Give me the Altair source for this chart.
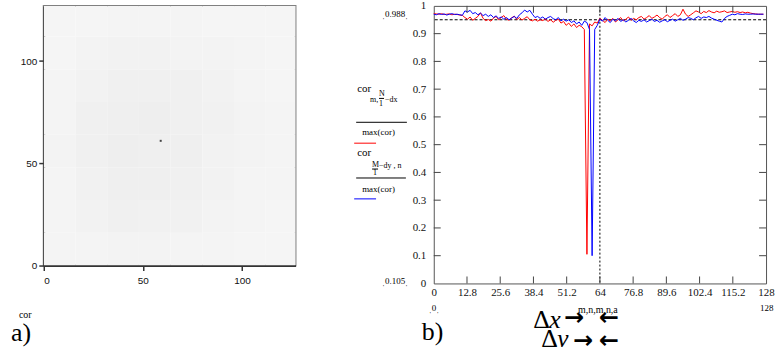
import altair as alt
import pandas as pd

SERIF = "Liberation Serif"
SANS = "Liberation Sans"

# ---------------- data ----------------
# normalised correlation profiles through the peak
shift = list(range(128))
cor_row = [
    0.972, 0.971, 0.970, 0.972, 0.969, 0.970, 0.971, 0.968, 0.970, 0.969,
    0.967, 0.966, 0.958, 0.952, 0.960, 0.948, 0.955, 0.962, 0.975, 0.955,
    0.947, 0.951, 0.945, 0.956, 0.962, 0.950, 0.958, 0.965, 0.952, 0.948,
    0.957, 0.963, 0.951, 0.958, 0.949, 0.955, 0.961, 0.950, 0.946, 0.952,
    0.945, 0.950, 0.947, 0.953, 0.944, 0.950, 0.941, 0.948, 0.952, 0.938,
    0.944, 0.930, 0.938, 0.926, 0.935, 0.922, 0.930, 0.925, 0.915, 0.105,
    0.935, 0.928, 0.942, 0.938, 0.955, 0.948, 0.940, 0.952, 0.946, 0.955,
    0.942, 0.950, 0.958, 0.946, 0.952, 0.960, 0.948, 0.955, 0.950, 0.958,
    0.962, 0.952, 0.958, 0.965, 0.955, 0.960, 0.967, 0.958, 0.952, 0.962,
    0.968, 0.958, 0.965, 0.972, 0.962, 0.968, 0.988, 0.970, 0.962, 0.968,
    0.975, 0.982, 0.978, 0.972, 0.980, 0.976, 0.983, 0.978, 0.975, 0.981,
    0.977, 0.979, 0.982, 0.976, 0.978, 0.980, 0.977, 0.979, 0.976, 0.978,
    0.975, 0.977, 0.974, 0.972, 0.971, 0.970, 0.970, 0.970,
]
cor_col = [
    0.970, 0.968, 0.972, 0.969, 0.971, 0.967, 0.970, 0.972, 0.969, 0.970,
    0.968, 0.966, 0.982, 0.978, 0.984, 0.972, 0.976, 0.968, 0.974, 0.965,
    0.970, 0.962, 0.968, 0.958, 0.964, 0.955, 0.960, 0.952, 0.958, 0.950,
    0.956, 0.962, 0.955, 0.968, 0.975, 0.985, 0.978, 0.984, 0.970, 0.958,
    0.962, 0.955, 0.960, 0.952, 0.958, 0.962, 0.954, 0.950, 0.958, 0.946,
    0.952, 0.945, 0.950, 0.940, 0.946, 0.935, 0.942, 0.930, 0.945, 0.940,
    0.915, 0.100, 0.915, 0.930, 0.952, 0.945, 0.958, 0.948, 0.940, 0.952,
    0.946, 0.955, 0.944, 0.950, 0.942, 0.948, 0.955, 0.946, 0.940, 0.948,
    0.944, 0.950, 0.942, 0.947, 0.952, 0.944, 0.948, 0.941, 0.946, 0.950,
    0.943, 0.948, 0.952, 0.945, 0.950, 0.955, 0.948, 0.952, 0.958, 0.955,
    0.950, 0.957, 0.962, 0.955, 0.960, 0.958, 0.962, 0.956, 0.952, 0.948,
    0.945, 0.942, 0.955, 0.962, 0.966, 0.970, 0.968, 0.972, 0.970, 0.969,
    0.971, 0.970, 0.970, 0.971, 0.970, 0.970, 0.970, 0.970,
]
threshold = 0.95
centre = 64

x_ticks = [0, 12.8, 25.6, 38.4, 51.2, 64, 76.8, 89.6, 102.4, 115.2, 128]
y_ticks = [0, 0.1, 0.2, 0.3, 0.4, 0.5, 0.6, 0.7, 0.8, 0.9, 1]
img_ticks = [0, 50, 100]

# coarse intensity of the correlation surface (8 x 8 blocks, bottom row first)
block = 16
cor_blocks = [
    [0.1, 0.1, 0.2, 0.2, 0.1, 0.1, 0.0, 0.0],
    [0.1, 0.3, 0.5, 0.4, 0.4, 0.2, 0.1, 0.0],
    [0.1, 0.4, 0.6, 0.6, 0.5, 0.3, 0.1, 0.1],
    [0.2, 0.5, 0.7, 0.6, 0.6, 0.3, 0.2, 0.1],
    [0.1, 0.5, 0.6, 0.7, 0.5, 0.4, 0.2, 0.1],
    [0.1, 0.3, 0.5, 0.5, 0.5, 0.3, 0.1, 0.0],
    [0.0, 0.2, 0.3, 0.3, 0.2, 0.2, 0.1, 0.0],
    [0.0, 0.0, 0.1, 0.1, 0.1, 0.0, 0.0, 0.0],
]
peak_x = [59]
peak_y = [61]

# ---------------- sizes ----------------
W_L, H_L = 253, 261
W_R, H_R = 334, 279


def note(txt, x, y, size=9, font=SERIF, align="left", **kw):
    return alt.Chart(pd.DataFrame({"t": [txt]})).mark_text(
        align=align, baseline="alphabetic", fontSize=size, font=font, **kw
    ).encode(x=alt.value(x), y=alt.value(y), text="t:N")


def bar(x1, x2, y, color="black", width=1):
    return alt.Chart(pd.DataFrame({"a": [0]})).mark_rule(
        color=color, strokeWidth=width
    ).encode(x=alt.value(x1), x2=alt.value(x2), y=alt.value(y))


# ---------------- left panel: surface of cor ----------------
cells = []
for r, row in enumerate(cor_blocks):
    for c, v in enumerate(row):
        cells.append({"x0": c * block, "x1": (c + 1) * block,
                      "y0": r * block, "y1": (r + 1) * block, "v": v})
cells = pd.DataFrame(cells)

img_axis = dict(values=img_ticks, format="d", title=None, grid=False,
                domainColor="#333333", domainWidth=2, tickColor="#333333",
                tickSize=5, tickWidth=1.5, labelFont=SANS, labelFontSize=10,
                labelColor="#111111")
img_x = alt.Scale(domain=[0, 127], nice=False, zero=False)
img_y = alt.Scale(domain=[0, 127], nice=False, zero=False)

heat = alt.Chart(cells).mark_rect(clip=True).encode(
    x=alt.X("x0:Q", scale=img_x, axis=alt.Axis(labelPadding=5, **img_axis)),
    x2="x1:Q",
    y=alt.Y("y0:Q", scale=img_y, axis=alt.Axis(labelPadding=2, **img_axis)),
    y2="y1:Q",
    color=alt.Color("v:Q", scale=alt.Scale(domain=[0, 1], range=["#f5f5f5", "#ebebeb"]),
                    legend=None),
)
peak = alt.Chart(pd.DataFrame({"px": peak_x, "py": peak_y})).mark_square(
    size=4, color="#444444", opacity=1
).encode(x=alt.X("px:Q", scale=img_x), y=alt.Y("py:Q", scale=img_y))

left = alt.layer(
    heat, peak,
    note("a)", -33, 337, size=26),
    note("cor", -25, 314, size=10),
).properties(width=W_L, height=H_L,
             view=alt.ViewBackground(stroke="#808080", strokeWidth=2))

# ---------------- right panel: profiles ----------------
prof = pd.DataFrame({"shift": shift, "row": cor_row, "col": cor_col})
xs = alt.Scale(domain=[0, 128], nice=False, zero=False)
ys = alt.Scale(domain=[0, 1], nice=False, zero=False)
x_axis = alt.Axis(values=x_ticks, format=".1~f", title=None, grid=False, domain=False,
                  ticks=False, tickSize=0, labelPadding=3, labelFont=SERIF,
                  labelFontSize=11, labelColor="#111111", labelFlush=False)
y_axis = alt.Axis(values=y_ticks, format=".1~f", title=None, grid=False, domain=False,
                  ticks=False, tickSize=0, labelPadding=8, labelFont=SERIF,
                  labelFontSize=11, labelColor="#111111", labelFlush=False)

red = alt.Chart(prof).mark_line(color="#ff0000", strokeWidth=1).encode(
    x=alt.X("shift:Q", scale=xs, axis=x_axis),
    y=alt.Y("row:Q", scale=ys, axis=y_axis),
)
blue = alt.Chart(prof).mark_line(color="#0000ff", strokeWidth=1).encode(
    x=alt.X("shift:Q", scale=xs, axis=x_axis),
    y=alt.Y("col:Q", scale=ys, axis=y_axis),
)
hline = alt.Chart(pd.DataFrame({"thr": [threshold]})).mark_rule(
    color="black", strokeWidth=1, strokeDash=[3, 2]
).encode(y=alt.Y("thr:Q", scale=ys, axis=y_axis))
vline = alt.Chart(pd.DataFrame({"c": [centre]})).mark_rule(
    color="black", strokeWidth=1, strokeDash=[2, 2]
).encode(x=alt.X("c:Q", scale=xs, axis=x_axis))

xt = pd.DataFrame({"t": x_ticks[1:-1]})
yt = pd.DataFrame({"t": y_ticks[1:-1]})
tick_style = dict(color="#444444", strokeWidth=1)
ticks_bottom = alt.Chart(xt).mark_rule(**tick_style).encode(
    x=alt.X("t:Q", scale=xs, axis=x_axis), y=alt.value(H_R), y2=alt.value(H_R - 7))
ticks_top = alt.Chart(xt).mark_rule(**tick_style).encode(
    x=alt.X("t:Q", scale=xs, axis=x_axis), y=alt.value(0), y2=alt.value(7))
ticks_left = alt.Chart(yt).mark_rule(**tick_style).encode(
    y=alt.Y("t:Q", scale=ys, axis=y_axis), x=alt.value(0), x2=alt.value(7))
ticks_right = alt.Chart(yt).mark_rule(**tick_style).encode(
    y=alt.Y("t:Q", scale=ys, axis=y_axis), x=alt.value(W_R), x2=alt.value(W_R - 7))

arrow = dict(size=24, font="DejaVu Sans", fontWeight="bold")
right = alt.layer(
    hline, vline, red, blue,
    ticks_bottom, ticks_top, ticks_left, ticks_right,
    # trace legend
    note("cor", -77, 87, size=11),
    note("m,", -64, 97, size=8),
    note("N", -55, 91, size=8),
    bar(-55, -50, 93),
    note("1", -55, 101, size=8),
    note("\u2212dx", -49, 97, size=8),
    bar(-78, -27, 117),
    note("max(cor)", -72, 130, size=9),
    bar(-80, -58, 138, color="#ff0000"),
    note("cor", -77, 151, size=11),
    note("M", -62, 162, size=8),
    bar(-62, -56, 164),
    note("1", -61, 170, size=8),
    note("\u2212dy , n", -55, 163, size=8),
    bar(-78, -28, 173),
    note("max(cor)", -72, 187, size=9),
    bar(-80, -58, 194, color="#0000ff"),
    # axis limits
    note("\u02cc0.988\u02cc", -52, 11, size=9),
    note("\u02cc0.105\u02cc", -52, 280, size=9),
    note("\u02cc0\u02cc", -5, 307, size=9),
    note("128", 328, 307, size=9),
    # panel label and shift markers
    note("b)", -12, 336, size=26),
    note("\u0394", 100, 324, size=26),
    note("x", 116, 324, size=26, fontStyle="italic"),
    note("\u2192", 131, 321, **arrow),
    note("m,n,m,n,a", 145, 309, size=10),
    note("\u2190", 166, 321, **arrow),
    note("\u0394", 108, 343, size=26),
    note("y", 124, 343, size=26, fontStyle="italic"),
    note("\u2192", 140, 344, **arrow),
    note("\u2190", 166, 344, **arrow),
).properties(width=W_R, height=H_R,
             view=alt.ViewBackground(stroke="#555555", strokeWidth=1))

chart = alt.hconcat(left, right, spacing=139, bounds="flush").properties(
    padding={"left": 10, "top": -2, "right": 0, "bottom": 0},
    background="white",
).configure_view(fill="white")

chart.save("out.html", embed_options={"renderer": "svg", "actions": False})
